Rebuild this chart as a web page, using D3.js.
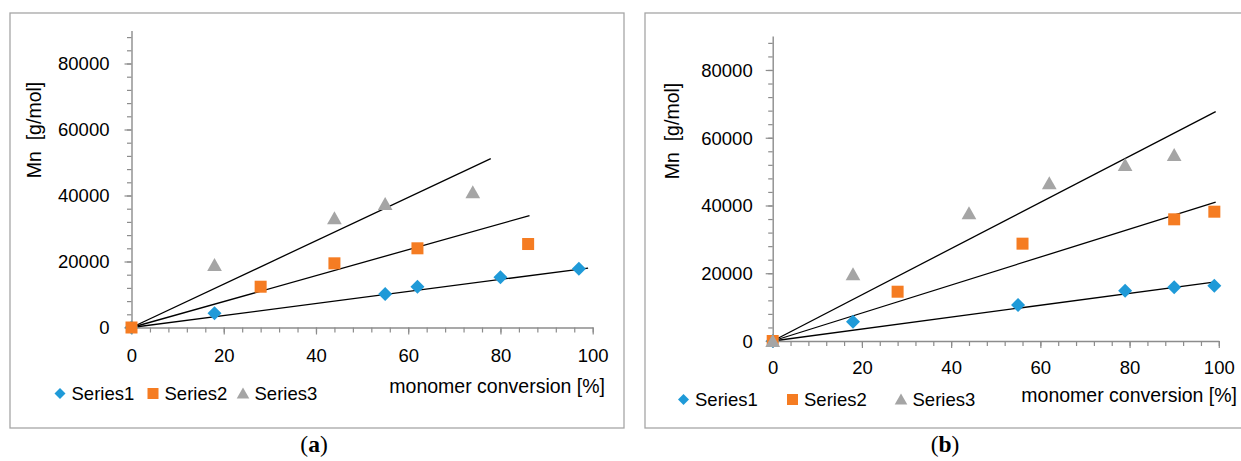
<!DOCTYPE html>
<html>
<head>
<meta charset="utf-8">
<script src="https://cdn.jsdelivr.net/npm/d3@7"></script>
<style>
  html, body { margin: 0; padding: 0; background: #fff; }
  svg { display: block; }
  text { font-family: "Liberation Sans", Arial, sans-serif; fill: #000; }
</style>
</head>
<body>
<svg id="chart" width="1241" height="461"></svg>
<script>
// ---------- data ----------
const seriesNames = ["Series1", "Series2", "Series3"];
const xTicks = [0, 20, 40, 60, 80, 100];
const yTicks = [0, 20000, 40000, 60000, 80000];
const panelLabels = ["a", "b"];
const xTitle = "monomer conversion [%]";
const yTitle = "Mn  [g/mol]";

// panel (a)
const a1X = [0, 18, 55, 62, 80, 97];
const a1Y = [0, 4300, 10150, 12360, 15200, 17820];
const a2X = [0, 28, 44, 62, 86];
const a2Y = [0, 12360, 19450, 24000, 25300];
const a3X = [18, 44, 55, 74];
const a3Y = [18940, 33090, 37420, 40960];
const aTrendSlope = [182, 393, 657];
const aTrendEnd = [99, 86.3, 77.9];

// panel (b)
const b1X = [0, 18, 55, 79, 90, 99];
const b1Y = [0, 5700, 10630, 14850, 15850, 16330];
const b2X = [0, 28, 56, 90, 99];
const b2Y = [0, 14550, 28730, 35920, 38170];
const b3X = [0, 18, 44, 62, 79, 90];
const b3Y = [0, 19690, 37700, 46550, 51960, 54900];
const bTrendSlope = [176, 413, 682];
const bTrendEnd = [99.3, 99.3, 99.3];

// ---------- styling / layout ----------
const colors = ["#1f9ad8", "#f57c22", "#a5a5a5"];
const svg = d3.select("#chart");

const panels = [
  {
    series: [[a1X, a1Y], [a2X, a2Y], [a3X, a3Y]],
    slope: aTrendSlope, end: aTrendEnd,
    frame: [10, 13, 614, 415],
    xr: [131.5, 592.7], yr: [327.5, 30.5],
    yPad: 15, xLabOff: 28,
    yTitle: [34, 130],
    xTitleRight: 605, xTitleY: 386,
    legendY: 393.5, legendX: [60, 153, 243],
    label: panelLabels[0], labelX: 314
  },
  {
    series: [[b1X, b1Y], [b2X, b2Y], [b3X, b3Y]],
    slope: bTrendSlope, end: bTrendEnd,
    frame: [645, 13, 600, 415],
    xr: [772.7, 1218.8], yr: [341, 36.1],
    yPad: 13, xLabOff: 26.5,
    yTitle: [672, 131],
    xTitleRight: 1237, xTitleY: 394.5,
    legendY: 399.5, legendX: [683.5, 792.5, 901],
    label: panelLabels[1], labelX: 945
  }
];

const symDiamond = (g, x, y, r) => g.append("path")
  .attr("d", `M${x},${y - r}L${x + r},${y}L${x},${y + r}L${x - r},${y}Z`);
const symSquare = (g, x, y, r) => g.append("rect")
  .attr("x", x - r).attr("y", y - r).attr("width", 2 * r).attr("height", 2 * r);
const symTri = (g, x, y, r) => g.append("path")
  .attr("d", `M${x},${y - r}L${x + r * 1.05},${y + r * 0.85}L${x - r * 1.05},${y + r * 0.85}Z`);
const symbols = [symDiamond, symSquare, symTri];
const markerR = [7, 6, 7];
const legendR = [5.5, 5.5, 6];

panels.forEach(p => {
  const g = svg.append("g");
  // frame
  g.append("rect")
    .attr("x", p.frame[0]).attr("y", p.frame[1])
    .attr("width", p.frame[2]).attr("height", p.frame[3])
    .attr("fill", "none").attr("stroke", "#a6a6a6").attr("stroke-width", 1.3);

  const x = d3.scaleLinear().domain([0, 100]).range(p.xr);
  const y = d3.scaleLinear().domain([0, 90000]).range(p.yr);

  // minor ticks
  const yMinor = d3.range(0, 90000, 4000);
  const xMinor = d3.range(0, 100.1, 4);
  g.append("g").attr("transform", `translate(${x(0)},0)`)
    .call(d3.axisLeft(y).tickValues(yMinor).tickSize(4.5).tickFormat(""))
    .call(a => a.select(".domain").remove())
    .call(a => a.selectAll("line").attr("stroke", "#8c8c8c").attr("stroke-width", 1.2));
  g.append("g").attr("transform", `translate(0,${y(0)})`)
    .call(d3.axisBottom(x).tickValues(xMinor).tickSize(5).tickFormat(""))
    .call(a => a.select(".domain").remove())
    .call(a => a.selectAll("line").attr("stroke", "#8c8c8c").attr("stroke-width", 1.2));

  // major y axis
  const ya = g.append("g").attr("transform", `translate(${x(0)},0)`)
    .call(d3.axisLeft(y).tickValues(yTicks).tickSize(7).tickSizeOuter(0)
      .tickPadding(p.yPad).tickFormat(d3.format("d")));
  ya.select(".domain").attr("stroke", "#8c8c8c").attr("stroke-width", 1.4);
  ya.selectAll("line").attr("stroke", "#8c8c8c").attr("stroke-width", 1.2);
  ya.selectAll("text").style("font-size", "18.5px")
    .style("font-family", '"Liberation Sans", Arial, sans-serif')
    .attr("dy", "0.35em");

  // major x axis
  const xa = g.append("g").attr("transform", `translate(0,${y(0)})`)
    .call(d3.axisBottom(x).tickValues(xTicks).tickSize(7).tickSizeOuter(0)
      .tickFormat(d3.format("d")));
  xa.select(".domain").attr("stroke", "#8c8c8c").attr("stroke-width", 1.4);
  xa.selectAll("line").attr("stroke", "#8c8c8c").attr("stroke-width", 1.2);
  xa.selectAll("text").style("font-size", "18.5px")
    .style("font-family", '"Liberation Sans", Arial, sans-serif')
    .attr("y", p.xLabOff).attr("dy", "0.35em");

  // trend lines
  p.slope.forEach((s, i) => {
    g.append("line")
      .attr("x1", x(0)).attr("y1", y(0))
      .attr("x2", x(p.end[i])).attr("y2", y(s * p.end[i]))
      .attr("stroke", "#000").attr("stroke-width", 1.3);
  });

  // markers
  p.series.forEach((ser, i) => {
    const mg = g.append("g").attr("fill", colors[i]);
    ser[0].forEach((xv, k) => symbols[i](mg, x(xv), y(ser[1][k]), markerR[i]));
  });

  // axis titles
  g.append("text")
    .attr("transform", `translate(${p.yTitle[0]},${p.yTitle[1]}) rotate(-90)`)
    .attr("text-anchor", "middle").attr("dominant-baseline", "central")
    .style("font-size", "19.5px").style("white-space", "pre")
    .text(yTitle);
  g.append("text")
    .attr("x", p.xTitleRight).attr("y", p.xTitleY)
    .attr("text-anchor", "end").attr("dominant-baseline", "central")
    .style("font-size", "19.5px")
    .text(xTitle);

  // legend
  seriesNames.forEach((n, i) => {
    const lx = p.legendX[i];
    const lg = g.append("g").attr("fill", colors[i]);
    symbols[i](lg, lx, p.legendY, legendR[i]);
    g.append("text")
      .attr("x", lx + 11.5).attr("y", p.legendY)
      .attr("dominant-baseline", "central")
      .style("font-size", "18.5px")
      .text(n);
  });

  // panel caption
  const cap = g.append("text")
    .attr("x", p.labelX).attr("y", 451.5)
    .attr("text-anchor", "middle")
    .style("font-family", '"Liberation Serif", "DejaVu Serif", serif')
    .style("font-size", "23.5px");
  cap.append("tspan").text("(");
  cap.append("tspan").style("font-weight", "bold").text(p.label);
  cap.append("tspan").text(")");
});
</script>
</body>
</html>
